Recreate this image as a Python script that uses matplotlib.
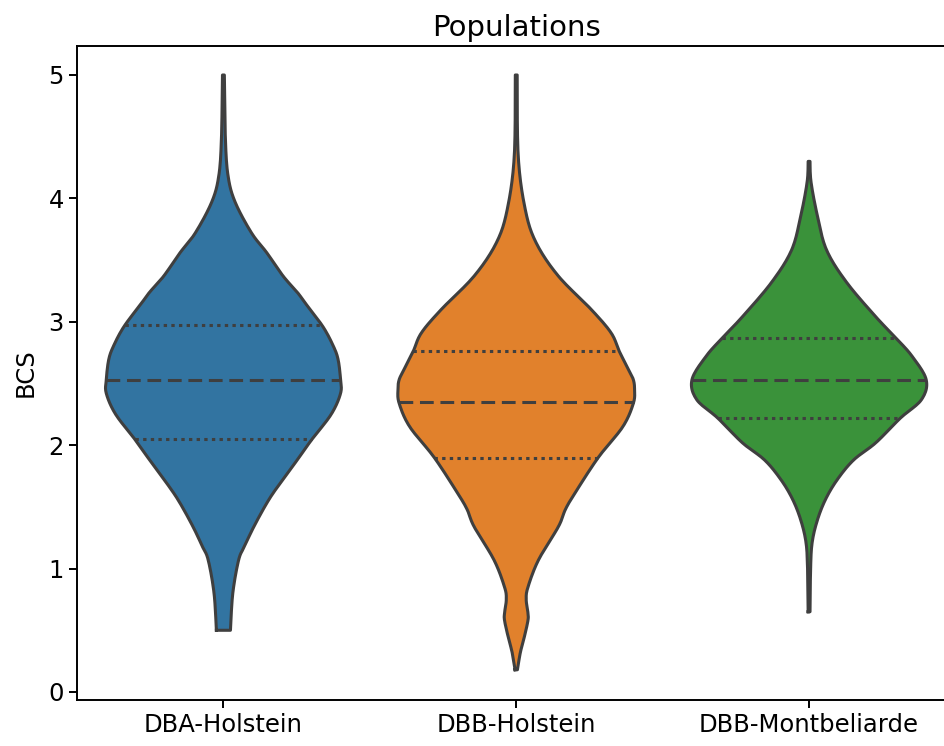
import numpy as np
import matplotlib.pyplot as plt

# BCS distributions per population: density profile (scaled to peak = 1)
populations = ['DBA-Holstein', 'DBB-Holstein', 'DBB-Montbeliarde']
colors = ['#3274a1', '#e1812c', '#3a923a']

dba_bcs = [0.50, 0.80, 1.07, 1.18, 1.34, 1.53, 1.66, 1.88, 2.04, 2.25, 2.42, 2.53,
           2.69, 2.80, 2.96, 3.15, 3.24, 3.37, 3.56, 3.72, 3.97, 4.18, 4.48, 5.00]
dba_dens = [0.06, 0.08, 0.13, 0.18, 0.26, 0.37, 0.46, 0.63, 0.75, 0.92, 1.00, 1.00,
            0.98, 0.94, 0.85, 0.70, 0.63, 0.51, 0.37, 0.24, 0.10, 0.04, 0.017, 0.008]

dbbh_bcs = [0.18, 0.32, 0.45, 0.58, 0.64, 0.75, 0.85, 1.07, 1.34, 1.48, 1.61, 1.90,
            2.15, 2.34, 2.45, 2.53, 2.61, 2.76, 2.91, 3.10, 3.37, 3.64, 3.91, 4.34, 5.00]
dbbh_dens = [0.01, 0.035, 0.07, 0.10, 0.10, 0.085, 0.10, 0.19, 0.36, 0.42, 0.50, 0.70,
             0.91, 1.00, 1.01, 1.00, 0.96, 0.88, 0.81, 0.64, 0.36, 0.17, 0.077, 0.017, 0.008]

dbbm_bcs = [0.65, 1.00, 1.21, 1.39, 1.56, 1.72, 1.88, 2.02, 2.22, 2.37, 2.53, 2.72,
            2.87, 3.04, 3.32, 3.58, 3.85, 4.13, 4.30]
dbbm_dens = [0.008, 0.013, 0.026, 0.07, 0.14, 0.24, 0.38, 0.57, 0.78, 0.96, 1.00, 0.88,
             0.74, 0.57, 0.32, 0.15, 0.073, 0.017, 0.008]

# quartiles (Q1, median, Q3)
quartiles = [(2.05, 2.53, 2.97), (1.90, 2.35, 2.76), (2.22, 2.53, 2.87)]

profiles = [(dba_bcs, dba_dens), (dbbh_bcs, dbbh_dens), (dbbm_bcs, dbbm_dens)]

FS = 17.5
LINE = '#3f3f3f'


def smooth_outline(ys, ds, n=12):
    """Catmull-Rom curve through the profile points."""
    p = np.column_stack([ys, ds])
    p = np.vstack([p[0], p, p[-1]])
    t = np.linspace(0, 1, n, endpoint=False)[:, None]
    out = []
    for k in range(1, len(p) - 2):
        p0, p1, p2, p3 = p[k - 1], p[k], p[k + 1], p[k + 2]
        seg = 0.5 * ((2 * p1) + (-p0 + p2) * t + (2 * p0 - 5 * p1 + 4 * p2 - p3) * t ** 2
                     + (-p0 + 3 * p1 - 3 * p2 + p3) * t ** 3)
        out.append(seg)
    out.append(p[-2][None, :])
    out = np.vstack(out)
    return out[:, 0], np.clip(out[:, 1], 0.004, None)


fig = plt.figure(figsize=(9.44, 7.46), dpi=100)
ax = fig.add_axes([77 / 944, 1 - 700 / 746, (955.5 - 77) / 944, (700 - 46) / 746])

half = 0.4
for i, ((ys, ds), col, qs) in enumerate(zip(profiles, colors, quartiles)):
    sy, sd = smooth_outline(ys, ds)
    w = half * sd
    ax.fill_betweenx(sy, i - w, i + w, facecolor=col, edgecolor='none', zorder=1)
    ox = np.concatenate([i - w, (i + w)[::-1], [i - w[0]]])
    oy = np.concatenate([sy, sy[::-1], [sy[0]]])
    ax.plot(ox, oy, color=LINE, lw=2.2, solid_joinstyle='round', zorder=2)
    for k, q in enumerate(qs):
        qw = np.interp(q, sy, w)
        ls = (0, (4.5, 2.2)) if k == 1 else (0, (1.1, 1.4))
        ax.plot([i - qw, i + qw], [q, q], color=LINE, lw=2.2, linestyle=ls, zorder=3)

ax.set_xlim(-0.5, 2.5)
ax.set_ylim(-0.065, 5.235)
ax.set_xticks(range(len(populations)))
ax.set_xticklabels(populations, fontsize=FS)
ax.set_yticks(range(6))
ax.tick_params(axis='y', labelsize=FS)
ax.tick_params(width=1.4, length=6)
for s in ax.spines.values():
    s.set_linewidth(1.4)
ax.spines['right'].set_visible(False)
ax.set_ylabel('BCS', fontsize=FS, labelpad=8)
ax.set_title('Populations', fontsize=21, pad=7)

fig.savefig('out.png', dpi=100)
